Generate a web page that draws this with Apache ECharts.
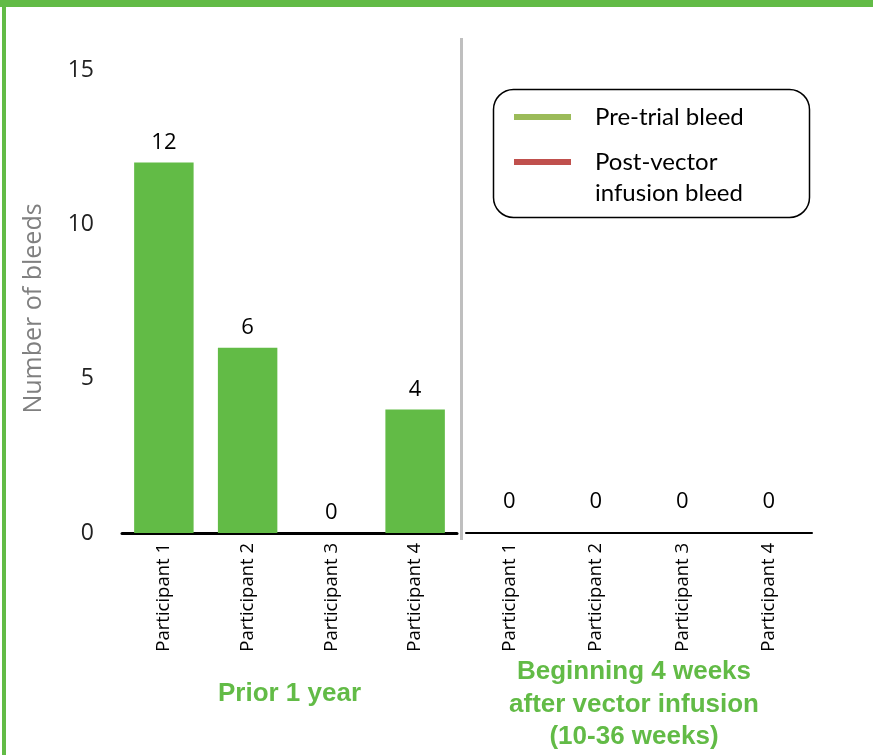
<!DOCTYPE html>
<html>
<head>
<meta charset="utf-8">
<script src="https://cdn.jsdelivr.net/npm/echarts@6/dist/echarts.min.js"></script>
<style>html,body{margin:0;padding:0;background:#fff;}#c{width:873px;height:755px;}</style>
</head>
<body>
<div id="c"></div>
<script>
const categories = ['Participant 1', 'Participant 2', 'Participant 3', 'Participant 4'];
const preTrialBleeds = [12, 6, 0, 4];
const postVectorBleeds = [0, 0, 0, 0];
const yTicks = [0, 5, 10, 15];
const seriesNames = ['Pre-trial bleed', 'Post-vector\ninfusion bleed'];
const periodTitles = ['Prior 1 year', 'Beginning 4 weeks\nafter vector infusion\n(10-36 weeks)'];
const yAxisTitle = 'Number of bleeds';

const chart = echarts.init(document.getElementById('c'));
const catLabel = { rotate: 90, fontFamily: 'Open Sans', fontSize: 18.5, color: '#000', margin: 10 };
const titleStyle = { fontFamily: 'Liberation Sans', fontWeight: 'bold', fontSize: 26, color: '#62bb46', lineHeight: 32.5 };
const valLabel = { show: true, position: 'top', fontFamily: 'Open Sans', fontSize: 22, color: '#000' };

chart.setOption({
  animation: false,
  backgroundColor: '#fff',
  grid: [
    { left: 122, top: 70, width: 335, height: 463, outerBoundsMode: 'none', containLabel: false },
    { left: 466, top: 70, width: 346, height: 463, outerBoundsMode: 'none', containLabel: false }
  ],
  xAxis: [
    { type: 'category', gridIndex: 0, data: categories,
      axisLine: { lineStyle: { color: '#000', width: 3 } }, axisTick: { show: false },
      axisLabel: catLabel, nameMoveOverlap: false,
      name: periodTitles[0], nameLocation: 'middle', nameGap: 145, nameTextStyle: titleStyle },
    { type: 'category', gridIndex: 1, data: categories,
      axisLine: { lineStyle: { color: '#000', width: 2 } }, axisTick: { show: false },
      axisLabel: catLabel, nameMoveOverlap: false,
      name: periodTitles[1], nameLocation: 'middle', nameGap: 123,
      nameTextStyle: Object.assign({ padding: [0, 10, 0, 0] }, titleStyle) }
  ],
  yAxis: [
    { type: 'value', gridIndex: 0, min: yTicks[0], max: yTicks[yTicks.length - 1], interval: 5,
      axisLine: { show: false }, axisTick: { show: false }, splitLine: { show: false },
      axisLabel: { fontFamily: 'Open Sans', fontSize: 23, color: '#222', margin: 28 },
      name: yAxisTitle, nameLocation: 'middle', nameGap: 76,
      nameTextStyle: { fontFamily: 'Open Sans', fontSize: 25, color: '#808080', padding: [0, 14, 0, 0] } },
    { type: 'value', gridIndex: 1, min: yTicks[0], max: yTicks[yTicks.length - 1], interval: 5,
      show: false, splitLine: { show: false } }
  ],
  legend: [
    { data: [{ name: seriesNames[0], itemStyle: { color: '#9bbb59' } }],
      left: 514, top: 101.5, padding: 0, icon: 'rect', itemWidth: 57, itemHeight: 6, selectedMode: false,
      textStyle: { fontFamily: 'Lato', fontSize: 24, color: '#000', lineHeight: 31, padding: [0, 0, 0, 19] } },
    { data: [{ name: seriesNames[1], itemStyle: { color: '#c0504d', borderWidth: 0 } }],
      left: 514, top: 146.5, padding: 0,
      icon: 'path://M0,0L57,0L57,6L0,6Z M0,37L0.01,37L0,37Z', itemWidth: 57, itemHeight: 37, selectedMode: false,
      textStyle: { fontFamily: 'Lato', fontSize: 24, color: '#000', lineHeight: 31, padding: [0, 0, 0, 19] } }
  ],
  graphic: [
    { type: 'rect', shape: { x: 0, y: 0, width: 873, height: 7 }, style: { fill: '#62bb46' }, silent: true },
    { type: 'rect', shape: { x: 2, y: 0, width: 4, height: 755 }, style: { fill: '#62bb46' }, silent: true },
    { type: 'rect', shape: { x: 460, y: 38, width: 3, height: 502 }, style: { fill: '#bfbfbf' }, silent: true },
    { type: 'rect', shape: { x: 493.5, y: 89.5, width: 316, height: 128, r: 20 },
      style: { fill: 'none', stroke: '#000', lineWidth: 1.5 }, silent: true, z: 10 }
  ],
  series: [
    { name: seriesNames[0], type: 'bar', xAxisIndex: 0, yAxisIndex: 0, data: preTrialBleeds,
      barWidth: '71%', itemStyle: { color: '#62bb46' }, label: Object.assign({ distance: 9 }, valLabel) },
    { name: seriesNames[1], type: 'bar', xAxisIndex: 1, yAxisIndex: 1, data: postVectorBleeds,
      barWidth: '71%', itemStyle: { color: '#c0504d' }, label: Object.assign({ distance: 20 }, valLabel) }
  ]
});
</script>
</body>
</html>
